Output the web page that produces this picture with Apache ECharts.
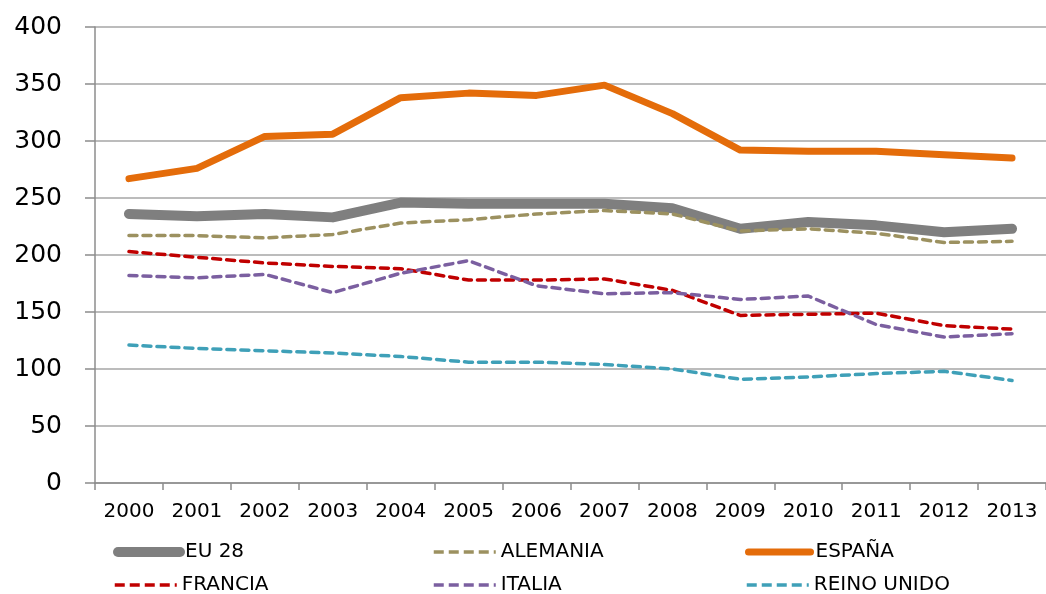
<!DOCTYPE html>
<html>
<head>
<meta charset="utf-8">
<script src="https://cdn.jsdelivr.net/npm/echarts@6/dist/echarts.min.js"></script>
<style>
  html, body { margin: 0; padding: 0; background: #fff; }
  #chart { width: 1046px; height: 594px; }
</style>
</head>
<body>
<div id="chart"></div>
<script>
// data
var years = ['2000', '2001', '2002', '2003', '2004', '2005', '2006', '2007', '2008', '2009', '2010', '2011', '2012', '2013'];
var eu28 = [236, 234, 236, 233, 246, 245, 245, 245, 241, 223, 229, 226, 220, 223];
var alemania = [217, 217, 215, 218, 228, 231, 236, 239, 236, 221, 223, 219, 211, 212];
var espana = [267, 276, 304, 306, 338, 342, 340, 349, 324, 292, 291, 291, 288, 285];
var francia = [203, 198, 193, 190, 188, 178, 178, 179, 169, 147, 148, 149, 138, 135];
var italia = [182, 180, 183, 167, 184, 195, 173, 166, 167, 161, 164, 139, 128, 131];
var reinoUnido = [121, 118, 116, 114, 111, 106, 106, 104, 100, 91, 93, 96, 98, 90];

var names = ['EU 28', 'ALEMANIA', 'ESPAÑA', 'FRANCIA', 'ITALIA', 'REINO UNIDO'];
var values = [eu28, alemania, espana, francia, italia, reinoUnido];
var colors = ['#7F7F7F', '#9C9160', '#E46C0A', '#C00000', '#7B5FA0', '#3FA0B8'];
var widths = [10, 3.5, 7, 3.5, 3.5, 3.5];
var dashed = [false, true, false, true, true, true];

// legend slots: 3 columns x 2 rows
var legLeft = [113, 432, 745];
var legTop = [542, 575];

var series = [];
var legends = [];
for (var i = 0; i < names.length; i++) {
    series.push({
        name: names[i],
        type: 'line',
        data: values[i],
        symbol: 'none',
        smooth: false,
        lineStyle: {
            color: colors[i],
            width: widths[i],
            type: dashed[i] ? [8, 6] : 'solid',
            cap: 'round',
            join: 'round'
        },
        itemStyle: { color: colors[i] }
    });
    legends.push({
        data: [names[i]],
        left: legLeft[i % 3],
        top: legTop[Math.floor(i / 3)],
        padding: 0,
        itemWidth: 62,
        itemHeight: 14,
        itemStyle: { color: 'transparent', borderWidth: 0, opacity: 0 },
        lineStyle: {
            color: colors[i],
            width: widths[i],
            type: dashed[i] ? [10, 5] : 'solid',
            cap: dashed[i] ? 'butt' : 'round'
        },
        textStyle: {
            fontFamily: 'DejaVu Sans',
            fontSize: 20,
            color: '#000'
        }
    });
}

var myChart = echarts.init(document.getElementById('chart'));
myChart.setOption({
    animation: false,
    grid: {
        left: 95,
        top: 27,
        width: 960,
        height: 456
    },
    legend: legends,
    xAxis: {
        type: 'category',
        data: years,
        boundaryGap: true,
        axisLine: { lineStyle: { color: '#8C8C8C', width: 1.5 } },
        axisTick: { show: true, length: 7, lineStyle: { color: '#8C8C8C', width: 1.5 } },
        axisLabel: {
            margin: 19,
            fontFamily: 'DejaVu Sans',
            fontSize: 20,
            color: '#000'
        }
    },
    yAxis: {
        type: 'value',
        min: 0,
        max: 400,
        interval: 50,
        axisLine: { show: true, lineStyle: { color: '#8C8C8C', width: 1.5 } },
        axisTick: { show: true, inside: false, length: 10, lineStyle: { color: '#8C8C8C', width: 1.5 } },
        splitLine: { show: true, lineStyle: { color: '#A6A6A6', width: 1.5 } },
        axisLabel: {
            margin: 33,
            fontFamily: 'DejaVu Sans',
            fontSize: 25,
            color: '#000'
        }
    },
    series: series
});
</script>
</body>
</html>
